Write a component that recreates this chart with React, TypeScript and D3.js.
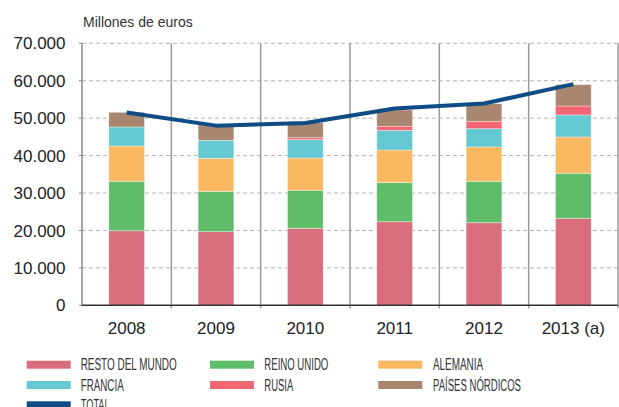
import React from "react";
import * as d3 from "d3";

const years = ["2008", "2009", "2010", "2011", "2012", "2013 (a)"];
const restoMundo = [19930, 19670, 20570, 22340, 22070, 23250];
const reinoUnido = [13200, 10790, 10160, 10430, 11060, 12020];
const alemania = [9430, 8810, 8630, 8730, 9170, 9700];
const francia = [5080, 4810, 4890, 5260, 4890, 5880];
const rusia = [0, 0, 530, 1070, 1980, 2400];
const nordicos = [3930, 4090, 4020, 4350, 4700, 5700];
const total = [51500, 48000, 48700, 52600, 53900, 59100];
const yTicks = [0, 10000, 20000, 30000, 40000, 50000, 60000, 70000];

const seriesNames = ["RESTO DEL MUNDO", "REINO UNIDO", "ALEMANIA", "FRANCIA", "RUSIA", "PAÍSES NÓRDICOS"];
const seriesValues = [restoMundo, reinoUnido, alemania, francia, rusia, nordicos];
const seriesColors = ["#d86e7b", "#5fbd6a", "#fbb862", "#64c9d1", "#f16673", "#a98670"];
const totalColor = "#0f4c86";

const W = 619, H = 407;
const left = 82, right = 618, top = 43.3, bottom = 305.3;

export default function App() {
  const x = d3.scaleBand<string>().domain(years).range([left, right]).paddingInner(0).paddingOuter(0);
  const y = d3.scaleLinear().domain([0, 70000]).range([bottom, top]);
  const bw = x.bandwidth() * 0.4;
  const fmt = (v: number) => (v === 0 ? "0" : d3.format(",")(v).replace(/,/g, "."));

  const rows = years.map((yr, i) => {
    const o: any = { year: yr };
    seriesNames.forEach((n, k) => (o[n] = seriesValues[k][i]));
    return o;
  });
  const stack = d3.stack<any>().keys(seriesNames)(rows);

  const line = d3
    .line<number>()
    .x((_, i) => (x(years[i]) as number) + x.bandwidth() / 2)
    .y((d) => y(d));

  const legendItems = [
    { name: "RESTO DEL MUNDO", color: seriesColors[0], col: 0, row: 0, w: 96 },
    { name: "REINO UNIDO", color: seriesColors[1], col: 1, row: 0, w: 64 },
    { name: "ALEMANIA", color: seriesColors[2], col: 2, row: 0, w: 50 },
    { name: "FRANCIA", color: seriesColors[3], col: 0, row: 1, w: 43 },
    { name: "RUSIA", color: seriesColors[4], col: 1, row: 1, w: 29 },
    { name: "PAÍSES NÓRDICOS", color: seriesColors[5], col: 2, row: 1, w: 88 },
    { name: "TOTAL", color: totalColor, col: 0, row: 2, w: 29 },
  ];
  const colX = [26.7, 210, 378.3];
  const textX = [80.7, 264.3, 433];

  return (
    <svg width={W} height={H} style={{ position: "absolute", left: 0, top: 0, display: "block" }}
      fontFamily="'Liberation Sans', Arial, sans-serif">
      <rect width={W} height={H} fill="#fff" />
      <text x={83} y={26.5} fontSize={14} fill="#333">Millones de euros</text>
      {yTicks.filter((t) => t > 0).map((t) => (
        <line key={t} x1={left} x2={right} y1={y(t)} y2={y(t)} stroke="#b5b5b5" strokeDasharray="4,3" strokeWidth={1} />
      ))}
      {years.map((yr) => (
        <line key={yr} x1={(x(yr) as number) + x.bandwidth()} x2={(x(yr) as number) + x.bandwidth()}
          y1={top} y2={bottom + 3} stroke="#9a9a9a" strokeWidth={1.5} />
      ))}
      <line x1={left} x2={left} y1={top} y2={bottom} stroke="#8a8a8a" strokeWidth={1.5} />
      {yTicks.map((t) => (
        <g key={t}>
          <line x1={left - 3} x2={left} y1={y(t)} y2={y(t)} stroke="#8a8a8a" strokeWidth={1} />
          <text x={65.5} y={y(t)} dy="0.36em" textAnchor="end" fontSize={17} fill="#222">{fmt(t)}</text>
        </g>
      ))}
      {stack.map((s, k) => (
        <g key={k} fill={seriesColors[k]}>
          {s.map((d, i) => {
            const h = y(d[0]) - y(d[1]);
            if (h <= 0) return null;
            return (
              <rect key={i} x={(x(years[i]) as number) + x.bandwidth() / 2 - bw / 2} y={y(d[1])} width={bw} height={h}
                stroke="rgba(255,255,255,0.45)" strokeWidth={0.8} />
            );
          })}
        </g>
      ))}
      <line x1={left} x2={right} y1={bottom} y2={bottom} stroke="#333" strokeWidth={1.5} />
      <path d={line(total) as string} fill="none" stroke={totalColor} strokeWidth={4} strokeLinejoin="round" />
      {years.map((yr) => (
        <text key={yr} x={(x(yr) as number) + x.bandwidth() / 2} y={334} textAnchor="middle" fontSize={17} fill="#222">{yr}</text>
      ))}
      {legendItems.map((it) => {
        const yy = 360.7 + it.row * 20.3;
        return (
          <g key={it.name}>
            <rect x={colX[it.col]} y={yy} width={44} height={8} fill={it.color} />
            <text x={textX[it.col]} y={yy + 9.5} fontSize={16} fill="#333" textLength={it.w} lengthAdjust="spacingAndGlyphs">{it.name}</text>
          </g>
        );
      })}
    </svg>
  );
}
